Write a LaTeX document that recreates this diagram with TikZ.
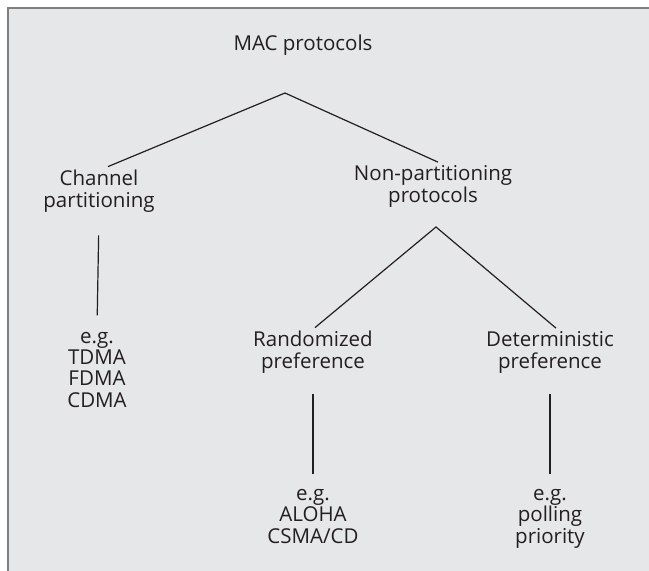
\documentclass[tikz,border=0pt]{standalone}
\usepackage{fontspec}
\setmainfont{Open Sans}
\definecolor{panelgray}{HTML}{E6E7E9}
\definecolor{framegray}{HTML}{7F7F7F}
\definecolor{inkblack}{HTML}{231F20}

\begin{document}
\begin{tikzpicture}[x=1pt, y=-1pt,
    every node/.style={font=\fontsize{20.5}{21.3}\selectfont, align=center, anchor=base, text=inkblack},
    link/.style={draw=inkblack, line width=1.2pt}]
  % panel: rule on the left and top only
  \useasboundingbox (0,0) rectangle (649,571);
  \fill[panelgray] (8,8) rectangle (649,571);
  \draw[framegray, line width=2pt] (8,571) -- (8,8) -- (649,8);
  % root and its two kinds (base = last line)
  \node (mac) at (303,50) {MAC protocols};
  \coordinate (macfork) at (285,93);
  \node (chan) at (99,207) {Channel\\partitioning};
  \node (nonpart) at (433,202) {Non-partitioning\\protocols};
  \draw[link] ([xshift=9pt]chan.north) -- (macfork) -- ([xshift=5pt]nonpart.north);
  % channel partitioning examples
  \node (chanex) at (97,407) {e.g.\\TDMA\\FDMA\\CDMA};
  \draw[link, shorten <=20pt, shorten >=13pt] (chan.south) -- (chanex.north);
  % non-partitioning split
  \coordinate (npfork) at (436,227);
  \node (rand) at (313,368) {Randomized\\preference};
  \node (det) at (550,368) {Deterministic\\preference};
  \draw[link] ([xshift=2pt]rand.north) -- (npfork) -- ([xshift=6pt]det.north);
  % examples under each preference
  \node (randex) at (313,543) {e.g.\\ALOHA\\CSMA/CD};
  \node (detex) at (550,543) {e.g.\\polling\\priority};
  \draw[link, shorten <=18pt, shorten >=12pt] (rand.south) -- (randex.north);
  \draw[link, shorten <=18pt, shorten >=12pt] (det.south) -- (detex.north);
\end{tikzpicture}
\end{document}
